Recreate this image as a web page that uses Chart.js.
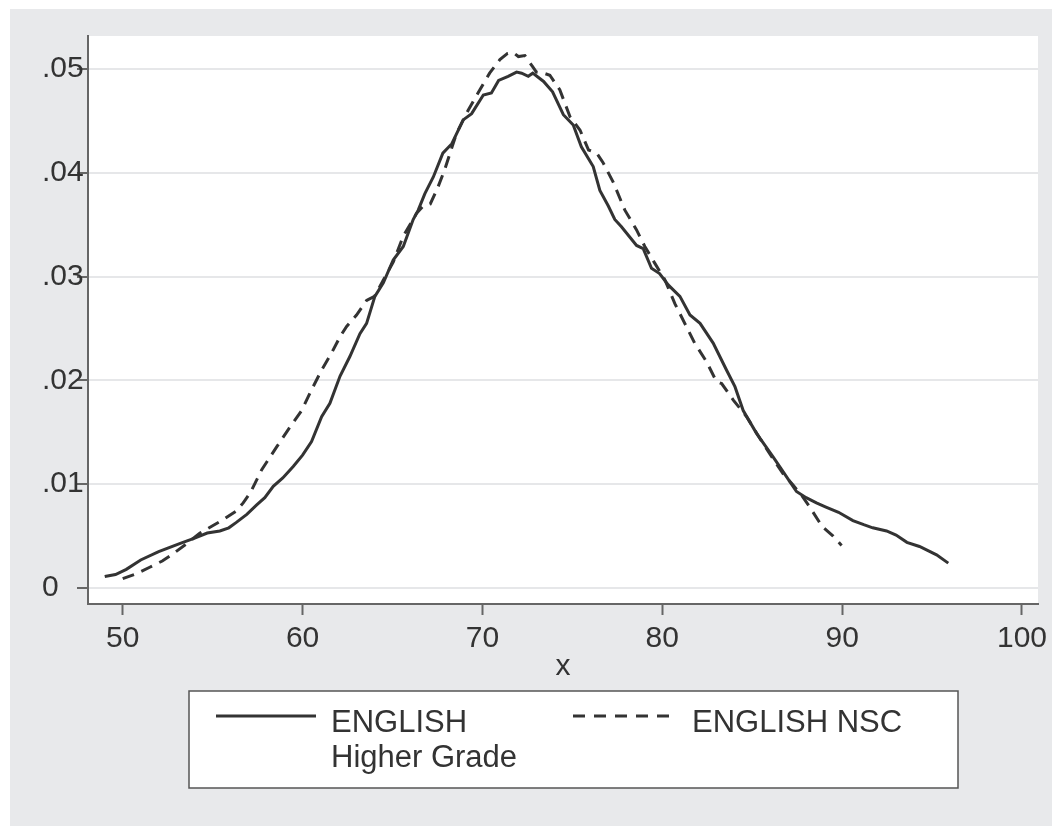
<!DOCTYPE html>
<html>
<head>
<meta charset="utf-8">
<title>ENGLISH density</title>
<script src="https://cdn.jsdelivr.net/npm/chart.js@4"></script>
<style>
  html, body { margin: 0; padding: 0; background: #ffffff; }
  canvas { display: block; }
</style>
</head>
<body>
<canvas id="densityChart" width="1052" height="826"></canvas>
<script>
// kernel density values
const higherX = [49.0, 49.6, 50.2, 51.0, 52.0, 53.2, 54.0, 54.7, 55.4, 55.9, 56.3, 56.9, 57.45, 57.9, 58.37, 58.9, 59.48, 60.0, 60.5, 61.06, 61.52, 62.08, 62.63, 63.19, 63.56, 64.02, 64.49, 65.04, 65.6, 66.15, 66.43, 66.8, 67.27, 67.8, 68.3, 68.93, 69.4, 70.05, 70.5, 70.9, 71.43, 71.9, 72.18, 72.55, 72.8, 73.4, 73.9, 74.5, 75.05, 75.5, 76.16, 76.53, 77.0, 77.36, 77.73, 78.57, 78.94, 79.4, 79.85, 80.33, 80.98, 81.54, 82.1, 82.83, 83.57, 84.04, 84.5, 85.24, 86.17, 86.8, 87.46, 88.0, 88.57, 89.1, 89.8, 90.6, 91.2, 91.7, 92.47, 93.0, 93.6, 94.3, 95.25, 95.9];
const higherY = [0.0011, 0.0013, 0.0018, 0.0027, 0.0035, 0.0043, 0.0048, 0.0053, 0.0055, 0.0058, 0.0063, 0.0071, 0.0080, 0.0087, 0.0098, 0.0106, 0.0117, 0.0128, 0.0141, 0.0165, 0.0178, 0.0204, 0.0223, 0.0245, 0.0255, 0.0281, 0.0294, 0.0316, 0.0329, 0.0355, 0.0364, 0.0380, 0.0396, 0.0419, 0.0428, 0.0451, 0.0457, 0.0475, 0.0477, 0.0489, 0.0493, 0.0497, 0.0496, 0.0493, 0.0496, 0.0488, 0.0478, 0.0456, 0.0446, 0.0425, 0.0406, 0.0383, 0.0368, 0.0355, 0.0348, 0.0330, 0.0327, 0.0308, 0.0303, 0.0292, 0.0281, 0.0263, 0.0255, 0.0236, 0.0210, 0.0194, 0.0171, 0.0149, 0.0126, 0.0110, 0.0093, 0.0087, 0.0082, 0.0078, 0.0073, 0.0065, 0.0061, 0.0058, 0.0055, 0.0051, 0.0044, 0.0040, 0.0032, 0.0024];

const nscX = [50.0, 50.8, 51.5, 52.2, 52.8, 53.5, 54.3, 55.0, 55.6, 56.3, 56.7, 57.1, 57.73, 58.56, 59.3, 59.95, 60.5, 61.06, 61.6, 62.08, 62.45, 63.0, 63.56, 64.0, 64.5, 65.04, 65.6, 66.34, 66.7, 67.1, 67.5, 67.9, 68.56, 69.2, 69.86, 70.4, 70.97, 71.4, 71.7, 72.0, 72.36, 72.8, 73.0, 73.4, 73.75, 74.3, 74.87, 75.43, 75.9, 76.35, 76.7, 77.27, 77.92, 78.57, 79.03, 79.58, 80.14, 80.7, 81.25, 81.8, 82.46, 83.01, 83.3, 83.95, 84.69, 85.43, 86.1, 86.72, 87.28, 87.8, 88.2, 88.9, 89.5, 89.97];
const nscY = [0.0009, 0.0014, 0.0020, 0.0026, 0.0033, 0.0042, 0.0053, 0.0060, 0.0066, 0.0074, 0.0082, 0.0092, 0.0114, 0.0136, 0.0155, 0.0171, 0.0191, 0.0210, 0.0226, 0.0242, 0.0252, 0.0263, 0.0277, 0.0281, 0.0297, 0.0314, 0.0339, 0.0361, 0.0368, 0.0370, 0.0385, 0.0403, 0.0438, 0.0460, 0.0480, 0.0496, 0.0509, 0.0515, 0.0516, 0.0512, 0.0513, 0.0502, 0.0497, 0.0496, 0.0494, 0.0480, 0.0454, 0.0441, 0.0422, 0.0419, 0.0410, 0.0391, 0.0364, 0.0345, 0.0329, 0.0313, 0.0297, 0.0274, 0.0255, 0.0236, 0.0218, 0.0199, 0.0197, 0.0181, 0.0165, 0.0144, 0.0126, 0.0110, 0.0099, 0.0088, 0.0078, 0.0059, 0.0050, 0.0041];

const xTicks = [50, 60, 70, 80, 90, 100];
const yTicks = [0, 0.01, 0.02, 0.03, 0.04, 0.05];
const seriesNames = [["ENGLISH", "Higher Grade"], ["ENGLISH NSC"]];

const FONT = '"Liberation Sans", Arial, Helvetica, sans-serif';
const INK = '#333333';
const AXIS = '#666666';
const BG = '#e8e9eb';

function toPoints(xs, ys) {
  return xs.map((x, i) => ({ x: x, y: ys[i] }));
}

// grey page, white plot region
const backdrop = {
  id: 'backdrop',
  beforeDraw(chart) {
    const ctx = chart.ctx;
    const a = chart.chartArea;
    ctx.save();
    ctx.fillStyle = '#ffffff';
    ctx.fillRect(0, 0, chart.width, chart.height);
    ctx.fillStyle = BG;
    ctx.fillRect(10, 9, chart.width - 10, chart.height - 9);
    ctx.fillStyle = '#ffffff';
    ctx.fillRect(a.left, a.top, a.right - a.left, a.bottom - a.top);
    ctx.restore();
  }
};

// boxed legend under the axis, two keys side by side
const boxLegend = {
  id: 'boxLegend',
  afterDraw(chart) {
    const ctx = chart.ctx;
    ctx.save();
    ctx.fillStyle = '#ffffff';
    ctx.fillRect(189, 691, 769, 97);
    ctx.strokeStyle = '#555555';
    ctx.lineWidth = 1.5;
    ctx.strokeRect(189, 691, 769, 97);

    ctx.strokeStyle = INK;
    ctx.lineWidth = 3;
    ctx.beginPath();
    ctx.moveTo(216, 716);
    ctx.lineTo(316, 716);
    ctx.stroke();

    ctx.setLineDash([12, 9]);
    ctx.beginPath();
    ctx.moveTo(573, 716);
    ctx.lineTo(676, 716);
    ctx.stroke();
    ctx.setLineDash([]);

    ctx.fillStyle = INK;
    ctx.font = '31px ' + FONT;
    ctx.textBaseline = 'alphabetic';
    ctx.textAlign = 'left';
    seriesNames[0].forEach((t, i) => ctx.fillText(t, 331, 732 + i * 35));
    seriesNames[1].forEach((t, i) => ctx.fillText(t, 692, 732 + i * 35));
    ctx.restore();
  }
};

const ctx = document.getElementById('densityChart').getContext('2d');

new Chart(ctx, {
  type: 'scatter',
  data: {
    datasets: [
      {
        label: seriesNames[0].join(' '),
        data: toPoints(higherX, higherY),
        showLine: true,
        borderColor: INK,
        borderWidth: 3,
        pointRadius: 0,
        tension: 0
      },
      {
        label: seriesNames[1].join(' '),
        data: toPoints(nscX, nscY),
        showLine: true,
        borderColor: INK,
        borderWidth: 3,
        borderDash: [12, 8],
        pointRadius: 0,
        tension: 0
      }
    ]
  },
  options: {
    responsive: false,
    animation: false,
    layout: { padding: { left: 42, top: 36, right: 14, bottom: 141 } },
    plugins: {
      legend: { display: false },
      tooltip: { enabled: false }
    },
    scales: {
      x: {
        type: 'linear',
        min: 48.07,
        max: 100.89,
        afterBuildTicks: s => { s.ticks = xTicks.map(v => ({ value: v })); },
        afterFit: s => { s.height = 81; s.paddingLeft = 0; s.paddingRight = 0; },
        grid: { drawOnChartArea: false, tickLength: 11, tickColor: AXIS, tickWidth: 2 },
        border: { color: AXIS, width: 2 },
        ticks: {
          padding: 6,
          maxRotation: 0,
          autoSkip: false,
          color: INK,
          font: { size: 30, family: FONT },
          callback: v => String(v)
        },
        title: {
          display: true,
          text: 'x',
          color: INK,
          padding: 0,
          font: { size: 30, family: FONT }
        }
      },
      y: {
        min: -0.00154,
        max: 0.05318,
        afterBuildTicks: s => { s.ticks = yTicks.map(v => ({ value: v })); },
        afterFit: s => { s.width = 46; s.paddingTop = 0; s.paddingBottom = 0; },
        grid: { color: '#e6e7e9', lineWidth: 2, tickLength: 11, tickColor: AXIS, tickWidth: 2 },
        border: { color: AXIS, width: 2 },
        ticks: {
          crossAlign: 'far',
          padding: 0,
          autoSkip: false,
          color: INK,
          font: { size: 30, family: FONT },
          callback: v => v === 0 ? '0' : v.toFixed(2).replace(/^0/, '')
        }
      }
    }
  },
  plugins: [backdrop, boxLegend]
});
</script>
</body>
</html>
